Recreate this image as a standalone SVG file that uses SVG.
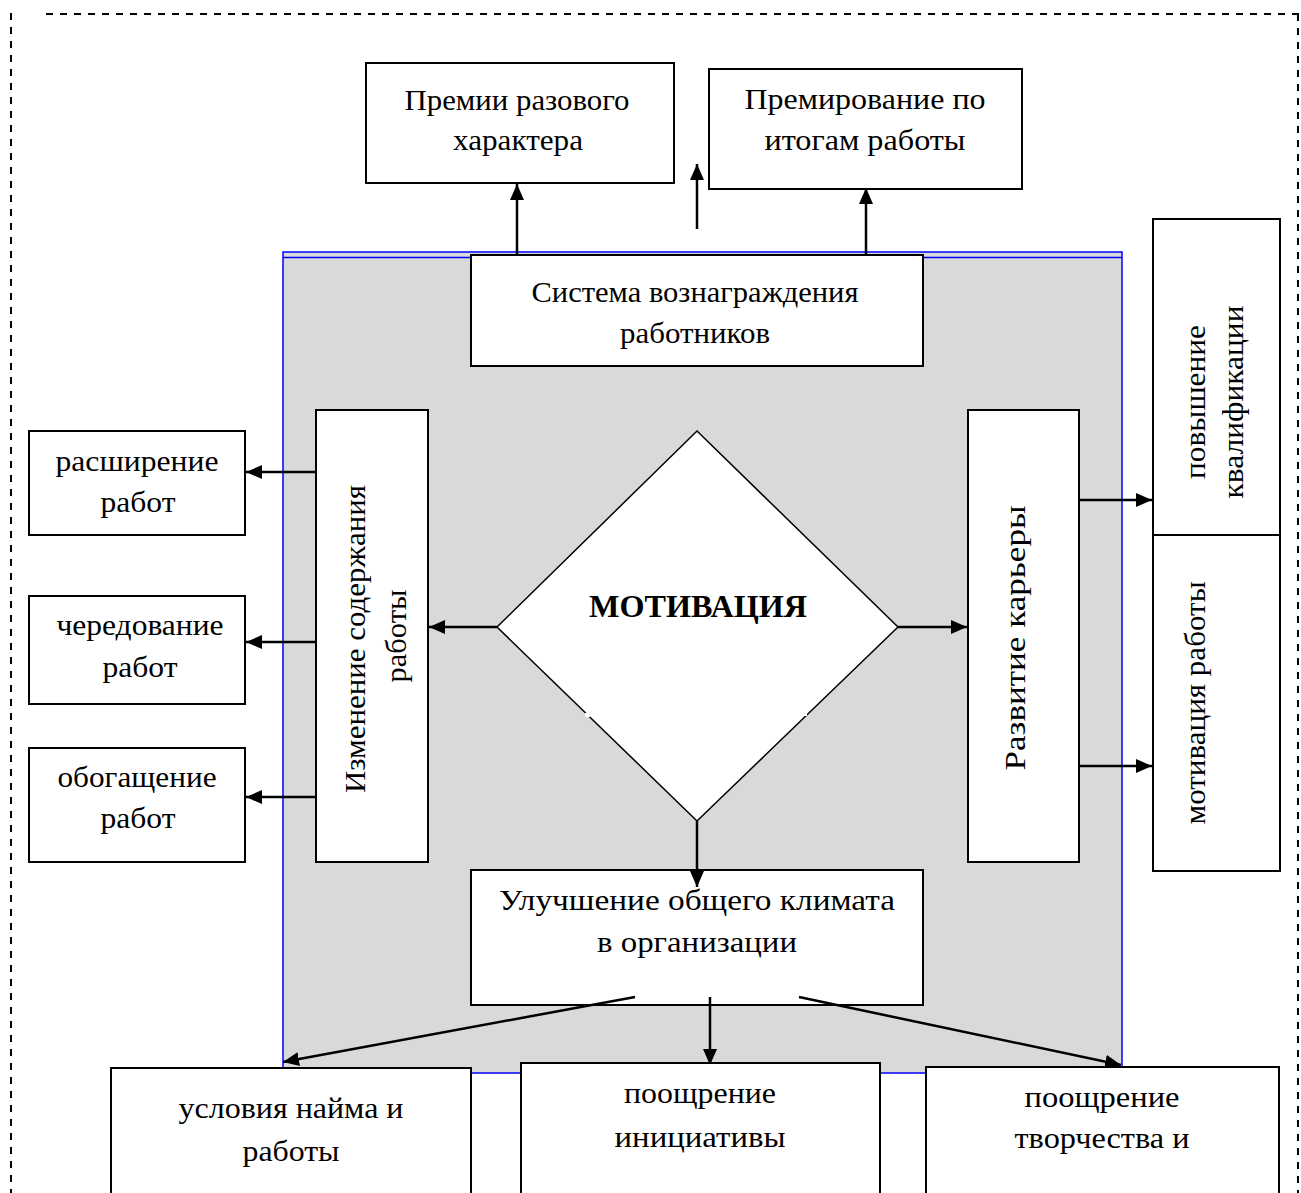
<svg xmlns="http://www.w3.org/2000/svg" width="1301" height="1193" viewBox="0 0 1301 1193">
<style>
.box{fill:#fff;stroke:#000;stroke-width:2}
.t{font-family:"Liberation Serif","Times New Roman",serif;font-size:30px;fill:#000;text-anchor:middle}
.b{font-weight:bold;font-size:32px}
.c{stroke:#000;stroke-width:2.5;fill:none}
.ca{stroke:#000;stroke-width:2.5;fill:none;marker-end:url(#ah)}
.dash{stroke:#000;stroke-width:2;stroke-dasharray:7 7;fill:none}
</style>
<defs>
<marker id="ah" markerWidth="16" markerHeight="14" refX="16" refY="7" orient="auto" markerUnits="userSpaceOnUse">
<path d="M0,0 L16,7 L0,14 z" fill="#000"/>
</marker>
</defs>
<rect width="1301" height="1193" fill="#fff"/>
<g id="frame">
<line class="dash" x1="11" y1="13" x2="11" y2="1193"/>
<line class="dash" x1="46" y1="14" x2="1299" y2="14"/>
<line class="dash" x1="1298" y1="14" x2="1298" y2="1193"/>
</g>
<g id="area">
<rect x="283" y="252" width="839" height="821" fill="#d9d9d9" stroke="#0000ff" stroke-width="1.5"/>
<line x1="283" y1="257.5" x2="1122" y2="257.5" stroke="#0000ff" stroke-width="1.5"/>
</g>
<g id="connectors">
<line class="ca" x1="517" y1="255" x2="517" y2="184"/>
<line class="ca" x1="697" y1="229" x2="697" y2="164"/>
<line class="ca" x1="866" y1="258" x2="866" y2="188"/>
<line class="ca" x1="316" y1="472" x2="246" y2="472"/>
<line class="ca" x1="316" y1="642" x2="246" y2="642"/>
<line class="ca" x1="316" y1="797" x2="246" y2="797"/>
<line class="ca" x1="497" y1="627" x2="429" y2="627"/>
<line class="ca" x1="898" y1="627" x2="967" y2="627"/>
<line class="ca" x1="1079" y1="500" x2="1152" y2="500"/>
<line class="ca" x1="1079" y1="766" x2="1152" y2="766"/>
</g>
<g id="n-premii"><rect class="box" x="366" y="63" width="308" height="120"/>
<text class="t" x="517" y="110" font-size="32" textLength="225" lengthAdjust="spacingAndGlyphs">Премии разового</text>
<text class="t" x="518" y="150" font-size="32" textLength="130" lengthAdjust="spacingAndGlyphs">характера</text></g>
<g id="n-premirovanie"><rect class="box" x="709" y="69" width="313" height="120"/>
<text class="t" x="865" y="109" textLength="241" lengthAdjust="spacingAndGlyphs">Премирование по</text>
<text class="t" x="865" y="150" textLength="201" lengthAdjust="spacingAndGlyphs">итогам работы</text></g>
<g id="n-sistema"><rect class="box" x="471" y="255" width="452" height="111"/>
<text class="t" x="695" y="302" font-size="32" textLength="327" lengthAdjust="spacingAndGlyphs">Система вознаграждения</text>
<text class="t" x="695" y="343" font-size="32" textLength="150" lengthAdjust="spacingAndGlyphs">работников</text></g>
<g id="n-izmenenie"><rect class="box" x="316" y="410" width="112" height="452"/>
<text class="t" transform="translate(365,639) rotate(-90)" textLength="308" lengthAdjust="spacingAndGlyphs">Изменение содержания</text>
<text class="t" transform="translate(406,636) rotate(-90)" textLength="93" lengthAdjust="spacingAndGlyphs">работы</text></g>
<g id="n-rasshirenie"><rect class="box" x="29" y="431" width="216" height="104"/>
<text class="t" x="137" y="471" textLength="163" lengthAdjust="spacingAndGlyphs">расширение</text>
<text class="t" x="138" y="512" textLength="75" lengthAdjust="spacingAndGlyphs">работ</text></g>
<g id="n-chered"><rect class="box" x="29" y="596" width="216" height="108"/>
<text class="t" x="140" y="635" textLength="167" lengthAdjust="spacingAndGlyphs">чередование</text>
<text class="t" x="140" y="677" textLength="75" lengthAdjust="spacingAndGlyphs">работ</text></g>
<g id="n-obogash"><rect class="box" x="29" y="748" width="216" height="114"/>
<text class="t" x="137" y="787" textLength="159" lengthAdjust="spacingAndGlyphs">обогащение</text>
<text class="t" x="138" y="828" textLength="75" lengthAdjust="spacingAndGlyphs">работ</text></g>
<g id="n-motivacia"><polygon points="697,431 898,627 697,821 497,627" fill="#fff" stroke="#000" stroke-width="1.5"/>
<rect x="585" y="713" width="5" height="4" fill="#fff"/>
<rect x="802" y="712" width="5" height="4" fill="#fff"/>
<text class="t b" x="698" y="617" textLength="218" lengthAdjust="spacingAndGlyphs">МОТИВАЦИЯ</text></g>
<g id="n-karera"><rect class="box" x="968" y="410" width="111" height="452"/>
<text class="t" transform="translate(1025,638) rotate(-90)" textLength="265" lengthAdjust="spacingAndGlyphs">Развитие карьеры</text></g>
<g id="n-povyshenie"><rect class="box" x="1153" y="219" width="127" height="316"/>
<text class="t" transform="translate(1205,402) rotate(-90)" textLength="154" lengthAdjust="spacingAndGlyphs">повышение</text>
<text class="t" transform="translate(1243,402) rotate(-90)" textLength="193" lengthAdjust="spacingAndGlyphs">квалификации</text></g>
<g id="n-motivrab"><rect class="box" x="1153" y="535" width="127" height="336"/>
<text class="t" transform="translate(1205,703) rotate(-90)" textLength="243" lengthAdjust="spacingAndGlyphs">мотивация работы</text></g>
<g id="n-uluchshenie"><rect class="box" x="471" y="870" width="452" height="135"/>
<text class="t" x="697" y="910" textLength="396" lengthAdjust="spacingAndGlyphs">Улучшение общего климата</text>
<text class="t" x="697" y="952" textLength="200" lengthAdjust="spacingAndGlyphs">в организации</text></g>
<g id="connectors2">
<line class="ca" x1="697" y1="821" x2="697" y2="887"/>
<line class="ca" x1="635" y1="997" x2="283" y2="1062"/>
<line class="ca" x1="710" y1="997" x2="710" y2="1065"/>
<line class="ca" x1="799" y1="997" x2="1121" y2="1065"/>
</g>
<g id="n-usloviya"><rect class="box" x="111" y="1068" width="360" height="140"/>
<text class="t" x="291" y="1118" textLength="225" lengthAdjust="spacingAndGlyphs">условия найма и</text>
<text class="t" x="291" y="1161" textLength="97" lengthAdjust="spacingAndGlyphs">работы</text></g>
<g id="n-iniciativa"><rect class="box" x="521" y="1063" width="359" height="145"/>
<text class="t" x="700" y="1103" textLength="152" lengthAdjust="spacingAndGlyphs">поощрение</text>
<text class="t" x="700" y="1147" textLength="171" lengthAdjust="spacingAndGlyphs">инициативы</text></g>
<g id="n-tvorchestvo"><rect class="box" x="926" y="1067" width="353" height="141"/>
<text class="t" x="1102" y="1107" textLength="155" lengthAdjust="spacingAndGlyphs">поощрение</text>
<text class="t" x="1102" y="1148" textLength="175" lengthAdjust="spacingAndGlyphs">творчества и</text></g>
</svg>
